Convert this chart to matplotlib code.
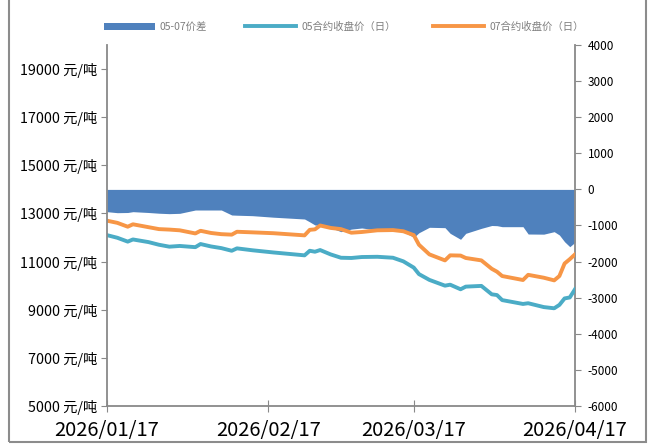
import matplotlib
matplotlib.use('Agg')
import matplotlib.pyplot as plt
import matplotlib.dates as mdates
from matplotlib.patches import Rectangle
import pandas as pd

plt.rcParams['font.family'] = ['Noto Sans CJK SC', 'DejaVu Sans']

dates = ['2026-01-17', '2026-01-19', '2026-01-21', '2026-01-22', '2026-01-25',
         '2026-01-27', '2026-01-29', '2026-01-31', '2026-02-03', '2026-02-04',
         '2026-02-06', '2026-02-08', '2026-02-10', '2026-02-11', '2026-02-14',
         '2026-02-18', '2026-02-24', '2026-02-25', '2026-02-26', '2026-02-27',
         '2026-03-01', '2026-03-03', '2026-03-05', '2026-03-07', '2026-03-10',
         '2026-03-13', '2026-03-15', '2026-03-17', '2026-03-18', '2026-03-20',
         '2026-03-23', '2026-03-24', '2026-03-26', '2026-03-27', '2026-03-30',
         '2026-04-01', '2026-04-02', '2026-04-03', '2026-04-07', '2026-04-08',
         '2026-04-11', '2026-04-13', '2026-04-14', '2026-04-15', '2026-04-16',
         '2026-04-17']

close_05 = [12100, 11990, 11830, 11920, 11810, 11700, 11620, 11650, 11600, 11730,
            11630, 11560, 11450, 11550, 11470, 11380, 11260, 11450, 11410, 11480,
            11300, 11160, 11150, 11190, 11200, 11160, 11010, 10750, 10480, 10240,
            10000, 10040, 9850, 9960, 9990, 9640, 9610, 9400, 9240, 9270,
            9110, 9060, 9200, 9470, 9510, 9850]

close_07 = [12700, 12610, 12450, 12550, 12430, 12350, 12330, 12300, 12170, 12280,
            12190, 12140, 12120, 12240, 12215, 12180, 12090, 12320, 12340, 12500,
            12400, 12350, 12200, 12230, 12300, 12310, 12260, 12100, 11700, 11300,
            11050, 11260, 11250, 11150, 11050, 10700, 10580, 10400, 10235, 10450,
            10330, 10220, 10400, 10920, 11100, 11300]

spread = [-617, -645, -640, -617, -640, -660, -672, -663, -571, -571,
          -571, -571, -709, -715, -728, -770, -820, -900, -986, -1000,
          -1060, -1171, -1100, -1069, -1125, -1150, -1171, -1328, -1200, -1050,
          -1060, -1217, -1383, -1217, -1079, -1000, -1005, -1033, -1033, -1236,
          -1240, -1171, -1263, -1450, -1587, -1467]

xticks = ['2026-01-17', '2026-02-17', '2026-03-17', '2026-04-17']
left_ticks = list(range(5000, 20000, 2000))
right_ticks = list(range(-6000, 4001, 1000))

x = pd.to_datetime(dates)
grey = '#898989'

fig = plt.figure(figsize=(6.56, 4.46), dpi=100)
ax = fig.add_axes([0.163, 0.0897, 0.7135, 0.8094])
ax2 = ax.twinx()

# spread area on the secondary axis, price lines above it
ax2.fill_between(x, 0, spread, color='#4F81BD', linewidth=0, label='05-07价差')
ax.plot(x, close_05, color='#4BACC6', lw=2.8, label='05合约收盘价（日）')
ax.plot(x, close_07, color='#F79646', lw=2.8, label='07合约收盘价（日）')
ax.set_zorder(ax2.get_zorder() + 1)
ax.patch.set_visible(False)

ax.set_ylim(5000, 20000)
ax.set_yticks(left_ticks)
ax.set_yticklabels(['%d 元/吨' % v for v in left_ticks], fontsize=10.3)
ax2.set_ylim(-6000, 4000)
ax2.set_yticks(right_ticks)
ax2.set_yticklabels([str(v) for v in right_ticks], fontsize=8.5)

ax.set_xlim(pd.Timestamp('2026-01-17'), pd.Timestamp('2026-04-17'))
ax.set_xticks(pd.to_datetime(xticks))
ax.xaxis.set_major_formatter(mdates.DateFormatter('%Y/%m/%d'))
ax.tick_params(axis='x', labelsize=14.5, direction='inout', length=8, pad=6,
               color=grey)
ax.tick_params(axis='y', direction='out', length=4, color=grey, pad=3)
ax2.tick_params(axis='y', direction='out', length=4, color=grey, pad=5)

for a in (ax, ax2):
    a.spines['top'].set_visible(False)
    for s in ('left', 'right', 'bottom'):
        a.spines[s].set_color(grey)
        a.spines[s].set_linewidth(1.3)
ax.spines['right'].set_visible(False)
ax2.spines['left'].set_visible(False)
ax2.spines['bottom'].set_visible(False)

h1, l1 = ax2.get_legend_handles_labels()
h2, l2 = ax.get_legend_handles_labels()
leg = fig.legend(h1 + h2, l1 + l2, loc='center', bbox_to_anchor=(0.524, 0.94),
                 ncol=3, frameon=False, fontsize=7.5, handlelength=4.9,
                 columnspacing=3.6, handletextpad=0.5)
for t in leg.get_texts():
    t.set_color('#7f7f7f')

# outer frame
fig.patches.append(Rectangle((0.014, 0.009), 0.971, 1.05, transform=fig.transFigure,
                             fill=False, edgecolor='#8c8c8c', linewidth=1.5))

fig.savefig('out.png', dpi=100)
